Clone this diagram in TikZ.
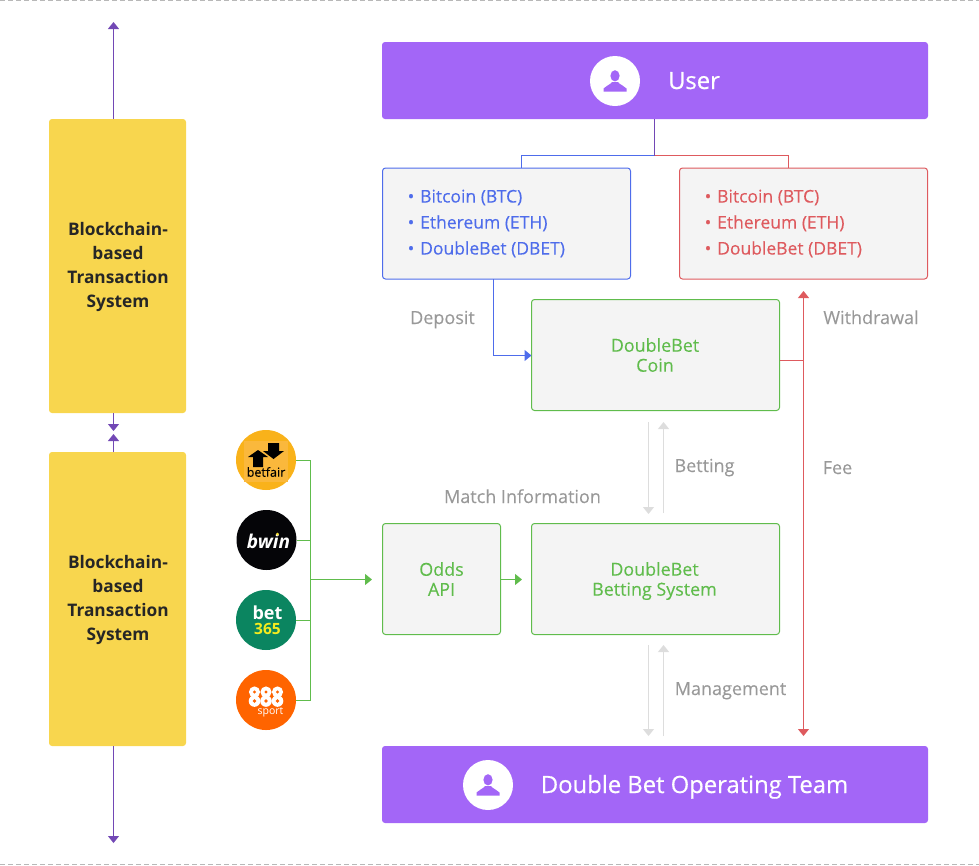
\documentclass[tikz,border=0pt]{standalone}
\usepackage{fontspec}
\setmainfont{Open Sans}
\newfontfamily\semi{Open Sans}[FakeBold=0.15]
\newfontfamily\semib{Open Sans}[FakeBold=0.5]
\usetikzlibrary{arrows.meta,calc}
\definecolor{purp}{HTML}{A366F7}
\definecolor{darkpurp}{HTML}{7248B5}
\definecolor{yell}{HTML}{F8D64E}
\definecolor{bluec}{HTML}{4E6CEB}
\definecolor{redc}{HTML}{DE5A5E}
\definecolor{greenc}{HTML}{60BC4C}
\definecolor{boxbg}{HTML}{F4F4F4}
\definecolor{lab}{HTML}{999999}
\definecolor{arrg}{HTML}{DDDDDD}
\definecolor{bfbg}{RGB}{249,178,26}
\definecolor{bfsq}{RGB}{250,184,60}
\definecolor{bwbg}{RGB}{5,5,8}
\definecolor{bwdot}{RGB}{250,225,40}
\definecolor{bsbg}{RGB}{11,133,96}
\definecolor{bsy}{RGB}{245,235,30}
\definecolor{ebg}{RGB}{255,100,0}
\tikzset{
  x=1pt,y=-1pt,
  tip/.style={-{Triangle[length=7pt,width=11pt]}},
  link/.style={line width=1pt},
  banner/.style={fill=purp,rounded corners=3pt,minimum width=546pt,minimum height=77pt,inner sep=0pt,outer sep=0pt},
  bannertext/.style={text=white,inner sep=0pt,anchor=base,font=\fontsize{23.8}{28}\semib},
  chain/.style={fill=yell,rounded corners=3pt,minimum width=137pt,minimum height=294pt,inner sep=0pt,outer sep=0pt},
  chaintext/.style={inner sep=0pt,align=center,font=\fontsize{17.3}{24}\selectfont\bfseries,text=black!85},
  panel/.style={draw=#1,fill=boxbg,line width=1pt,rounded corners=3pt,inner sep=0pt,outer sep=0pt,text=#1},
  coins/.style={panel=#1,minimum width=248pt,minimum height=111pt},
  cointext/.style={inner sep=0pt,text=#1,align=left,font=\fontsize{17.5}{26}\semi},
  greenbox/.style={panel=greenc,minimum height=111pt},
  greentext/.style={inner sep=0pt,text=greenc,align=center,font=\fontsize{17.9}{20}\semi},
  lbl/.style={text=lab,inner sep=0pt,anchor=base,font=\fontsize{18}{20}\semi},
  logo/.style={circle,minimum size=60pt,inner sep=0pt,outer sep=0pt},
  avatar/.style={circle,fill=white,minimum size=50pt,inner sep=0pt},
}
\newcommand{\bul}[1]{\makebox[9pt][l]{•}#1}
\newcommand{\person}[2]{%
  \fill[purp] (#1,#2-5.2) ellipse (4.6pt and 5.6pt);
  \fill[purp] (#1-11.5,#2+10.5) -- (#1-11.5,#2+7.5) .. controls (#1-9,#2+4.5) and (#1-5,#2+4) .. (#1-3,#2+1) -- (#1+3,#2+1) .. controls (#1+5,#2+4) and (#1+9,#2+4.5) .. (#1+11.5,#2+7.5) -- (#1+11.5,#2+10.5) -- cycle;
}
\begin{document}
\begin{tikzpicture}
\useasboundingbox (0,0) rectangle (979,865);
\draw[dash pattern=on 5pt off 3pt,line width=1pt,black!28] (0,0.5) -- (979,0.5);
\draw[dash pattern=on 5pt off 3pt,line width=1pt,black!28] (0,864.5) -- (979,864.5);

% banners
\node[banner] (user) at (655,80.5) {};
\node[avatar] (ua) at (615,81) {};
\person{615}{81}
\node[bannertext] (ut) at (694,89) {User};
\node[banner] (team) at (655,784.5) {};
\node[avatar] (ta) at (488,785) {};
\person{488}{785}
\node[bannertext] (tt) at (694.5,793) {Double Bet Operating Team};

% chains
\node[chain] (c1) at (117.5,266) {};
\node[chaintext] (c1t) at (118,266.5) {Blockchain-\\based\\Transaction\\System};
\node[chain] (c2) at (117.5,599) {};
\node[chaintext] (c2t) at (118,599.5) {Blockchain-\\based\\Transaction\\System};
\coordinate (c1top) at (113.5,22);
\coordinate (c1bot) at (113.5,431);
\coordinate (c2top) at (113.5,434);
\coordinate (c2bot) at (113.5,843);
\draw[link,darkpurp,tip] (c1.north -| c1top) -- (c1top);
\draw[link,darkpurp,tip] (c1.south -| c1bot) -- (c1bot);
\draw[link,darkpurp,tip] (c2.north -| c2top) -- (c2top);
\draw[link,darkpurp,tip] (c2.south -| c2bot) -- (c2bot);

% coin panels
\node[coins=bluec] (dep) at (506.5,223.5) {};
\node[cointext=bluec,anchor=west] (dept) at (407.5,223.5) {\bul{}\hspace{3.5pt}Bitcoin (BTC)\\\bul{}\hspace{3.5pt}Ethereum (ETH)\\\bul{}\hspace{3.5pt}DoubleBet (DBET)};
\node[coins=redc] (wd) at (803.5,223.5) {};
\node[cointext=redc,anchor=west] (wdt) at (704.5,223.5) {\bul{}\hspace{3.5pt}Bitcoin (BTC)\\\bul{}\hspace{3.5pt}Ethereum (ETH)\\\bul{}\hspace{3.5pt}DoubleBet (DBET)};
\node[greenbox,minimum width=248pt] (coin) at (655.5,355) {};
\node[greentext] (coint) at (655,355) {DoubleBet\\Coin};
\node[greenbox,minimum width=118pt] (odds) at (441.5,579) {};
\node[greentext] (oddst) at (441.5,579) {Odds\\API};
\node[greenbox,minimum width=248pt] (bet) at (655.5,579) {};
\node[greentext] (bett) at (654.5,581) {DoubleBet\\Betting System};

% user split
\coordinate (split) at (654.5,155.5);
\coordinate (bl) at (521.5,155.5);
\coordinate (rl) at (788.5,155.5);
\draw[link,bluec] (split) -- (bl) -- (bl |- dep.north);
\draw[link,redc] (split) -- (rl) -- (rl |- wd.north);
\draw[link,darkpurp] (user.south -| split) -- (split);

% deposit
\coordinate (dp) at (493.5,355.5);
\draw[link,bluec,tip] (dp |- dep.south) -- (dp) -- (coin.west |- dp);

% withdrawal / fee
\coordinate (wt) at (803.5,291);
\coordinate (wb) at (803.5,736);
\coordinate (feej) at (803.5,360);
\draw[link,redc,{Triangle[length=7pt,width=11pt]}-{Triangle[length=7pt,width=11pt]}] (wt) -- (wb);
\draw[link,redc] (coin.east |- feej) -- (feej);

% betting / management
\coordinate (ba) at (648.5,422);
\coordinate (bb) at (648.5,514);
\coordinate (bc) at (663.5,422);
\coordinate (bd) at (663.5,513);
\draw[link,arrg,tip] (ba) -- (bb);
\draw[link,arrg,tip] (bd) -- (bc);
\coordinate (ma) at (648.5,645);
\coordinate (mb) at (648.5,736);
\coordinate (mc) at (663.5,645);
\coordinate (md) at (663.5,736);
\draw[link,arrg,tip] (ma) -- (mb);
\draw[link,arrg,tip] (md) -- (mc);

% labels
\node[lbl] (l1) at (442.5,324) {Deposit};
\node[lbl] (l2) at (871,324) {Withdrawal};
\node[lbl] (l3) at (704.5,472) {Betting};
\node[lbl] (l4) at (837.5,474) {Fee};
\node[lbl] (l5) at (522.5,503) {Match Information};
\node[lbl] (l6) at (730.5,695) {Management};

% logos
\node[logo,fill=bfbg] (betfair) at (266,460) {};
\fill[bfsq] (244,441) rectangle (288,482);
\fill[black] (248,457) -- (258,450) -- (268,457) -- (263,457) -- (263,467) -- (253,467) -- (253,457) -- cycle;
\fill[black] (263,451) -- (268,451) -- (268,443) -- (279,443) -- (279,451) -- (284,451) -- (273.5,459) -- cycle;
\node[inner sep=0pt,text=black] (bft) at (266,472) {\fontsize{12.5}{12}\semi betfair};

\node[logo,fill=bwbg] (bwin) at (266.5,540) {};
\node[inner sep=0pt,text=white] (bwt) at (268.5,541) {\fontsize{19}{20}\selectfont\bfseries\itshape bwin};
\fill[bwdot] (277.5,534) circle (1.5pt);

\node[logo,fill=bsbg] (b365) at (266,620) {};
\node[inner sep=0pt,text=white] (bt1) at (267.5,613) {\fontsize{18}{18}\selectfont\bfseries bet};
\node[inner sep=0pt,text=bsy] (bt2) at (267.5,629) {\fontsize{15.5}{15}\selectfont\bfseries 365};

\node[logo,fill=ebg] (s888) at (266,700) {};
\foreach \cx in {254.5,266,277.5}{
  \fill[white] (\cx,692) circle (5.6pt);
  \fill[white] (\cx,701) circle (5.8pt);
  \fill[ebg] (\cx,692) circle (1.7pt);
  \fill[ebg] (\cx,701) circle (1.9pt);
}
\node[inner sep=0pt,text=white] (st) at (270.5,712) {\fontsize{10.5}{10}\selectfont sport};

% bookmaker links
\coordinate (bus) at (310.5,579.5);
\draw[link,greenc] (betfair.east) -- (bus |- betfair.east) -- (bus |- s888.east) -- (s888.east);
\draw[link,greenc] (bwin.east) -- (bus |- bwin.east);
\draw[link,greenc] (b365.east) -- (bus |- b365.east);
\coordinate (oddin) at (372,579.5);
\draw[link,greenc,tip] (bus) -- (oddin);
\coordinate (betin) at (522,579.5);
\draw[link,greenc,tip] (odds.east |- betin) -- (betin);
\end{tikzpicture}
\end{document}
